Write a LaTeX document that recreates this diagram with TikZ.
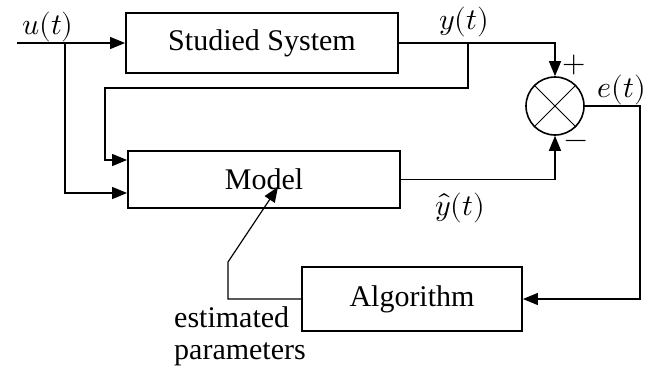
\documentclass[tikz,border=0pt]{standalone}
\usepackage{amsmath}
\usepackage{unicode-math}
\setmainfont{Liberation Serif}
\setmathfont{Latin Modern Math}
\usetikzlibrary{arrows.meta}

\begin{document}
\begin{tikzpicture}[
    x=1pt, y=-1pt,
    every node/.style={font=\fontsize{30}{32}\selectfont},
    block/.style={draw, line width=1.8pt, inner sep=0pt},
    wire/.style={draw, line width=1.2pt},
    arr/.style={wire, -{Triangle[length=15pt,width=12pt]}},
    sumnode/.style={draw, circle, line width=1.6pt, minimum size=58pt, inner sep=0pt},
    lab/.style={inner sep=1pt},
]
    \useasboundingbox (0,0) rectangle (656,367);

    \node[block, minimum width=272pt, minimum height=60pt] (sys) at (262,43) {Studied System};
    \node[block, minimum width=272pt, minimum height=57pt] (model) at (264,179.5) {Model};
    \node[block, minimum width=220pt, minimum height=64pt] (alg) at (412,299) {Algorithm};
    \node[sumnode] (sum) at (555,106) {};
    \draw[line width=0.8pt] (sum.north east) -- (sum.south west)
                            (sum.north west) -- (sum.south east);

    \coordinate (uin) at (17,43);
    \coordinate (utap) at (65,43);
    \coordinate (ytap) at (468,43);
    \coordinate (fbk) at (105,88);
    \coordinate (ecorner) at (640,106);
    \coordinate (pbend) at (228,262);
    \coordinate (ptip) at (278,187);
    \coordinate (min1) at ([yshift=19.5pt]model.west);
    \coordinate (min2) at ([yshift=-13.5pt]model.west);

    % input and plant output
    \draw[arr] (uin) -- (sys.west);
    \draw[arr] (utap) |- (min2);
    \draw[arr] (sys.east) -| (sum.north);
    \draw[arr] (ytap) -- (ytap |- fbk) -- (fbk) |- (min1);
    % model output and error
    \draw[arr] (model.east) -| (sum.south);
    \draw[arr] (sum.east) -- (ecorner) |- (alg.east);
    \draw[arr] (alg.west) -| (pbend) -- (ptip);

    \node[lab] (ulab) at (48,27) {$u(t)$};
    \node[lab] (ylab) at (464,22) {$y(t)$};
    \node[lab] (elab) at (622,90) {$e(t)$};
    \node[lab] (yhlab) at (460,208) {$\hat{y}(t)$};
    \node[lab] (plus) at (574,65) {$+$};
    \node[lab] (minus) at (576,144) {$-$};
    \node[align=left, lab] (est) at (240,336) {estimated\\parameters};
\end{tikzpicture}
\end{document}
